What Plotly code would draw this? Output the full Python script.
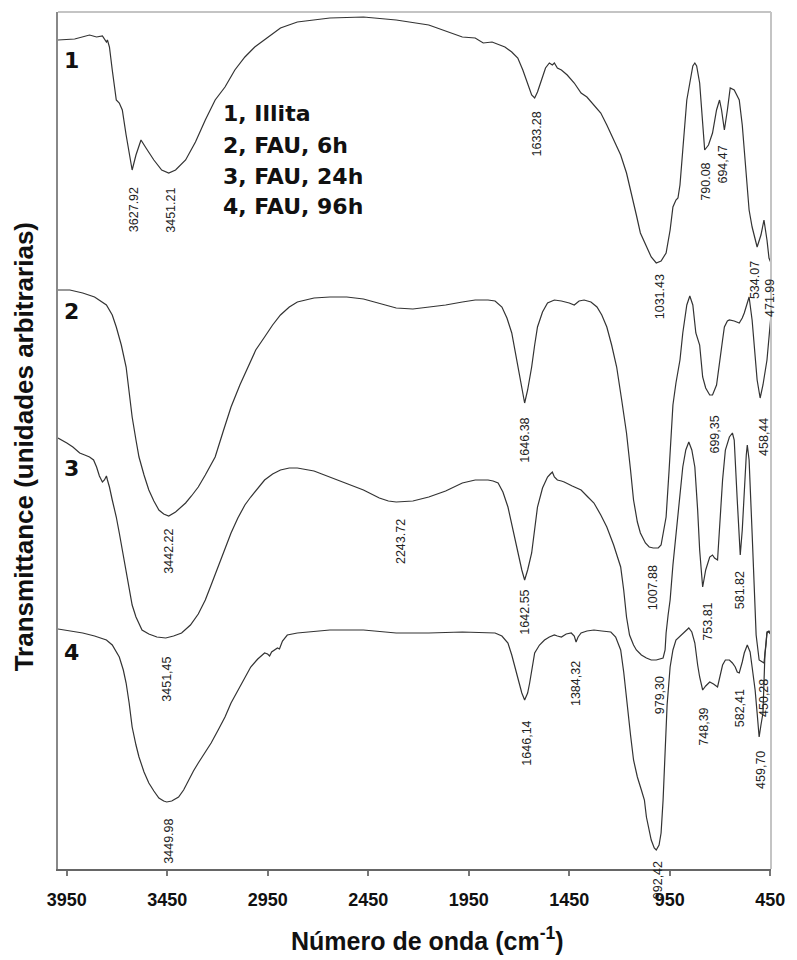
import plotly.graph_objects as go

# ---------------- data (wavenumber cm-1, transmittance in arbitrary units) ----------------
wn1 = [3994, 3911, 3837, 3802, 3773, 3753, 3748, 3738, 3724, 3704, 3689, 3674, 3655, 3640, 3625,
       3606, 3581, 3556, 3517, 3478, 3443, 3409, 3359, 3310, 3261, 3212, 3163, 3114, 3064, 3015,
       2966, 2926, 2887, 2803, 2641, 2474, 2311, 2149, 1982, 1918, 1878, 1834, 1804, 1770, 1736,
       1706, 1681, 1657, 1637, 1622, 1608, 1588, 1568, 1549, 1534, 1524, 1509, 1489, 1460, 1425,
       1391, 1362, 1327, 1293, 1263, 1229, 1194, 1165, 1145, 1130, 1116, 1096, 1081, 1066, 1042,
       1017, 993, 968, 948, 934, 919, 909, 899, 885, 865, 850, 835, 825, 816, 801, 791, 776, 757,
       737, 717, 702, 692, 678, 663, 649, 629, 604, 589, 574, 555, 540, 515, 496, 481, 466, 456, 446]
t1 = [829, 830, 834, 832, 833, 827, 829, 822, 799, 769, 766, 759, 734, 714, 699,
      714, 729, 721, 709, 699, 696, 699, 709, 727, 749, 769, 782, 799, 812, 822,
      829, 835, 841, 847, 851, 852, 849, 844, 832, 831, 826, 827, 825, 822, 817,
      811, 799, 786, 774, 771, 777, 789, 801, 806, 804, 806, 801, 799, 794, 786,
      776, 772, 764, 756, 744, 729, 714, 696, 679, 669, 654, 636, 629, 622, 612,
      606, 608, 616, 639, 662, 669, 671, 684, 719, 769, 786, 803, 806, 803, 786, 759, 719, 724,
      736, 759, 769, 759, 739, 759, 781, 779, 769, 744, 702, 659, 642, 622, 634, 649, 629, 611, 606]

wn2 = [3994, 3935, 3871, 3812, 3753, 3724, 3704, 3679, 3655, 3640, 3625, 3606, 3591, 3566, 3542,
       3517, 3492, 3468, 3443, 3409, 3359, 3330, 3296, 3261, 3212, 3173, 3133, 3089, 3049, 3010,
       2966, 2926, 2887, 2843, 2803, 2720, 2641, 2557, 2474, 2395, 2311, 2228, 2149, 2065, 1982,
       1918, 1854, 1819, 1785, 1760, 1736, 1721, 1706, 1686, 1672, 1657, 1637, 1622, 1608, 1583,
       1558, 1524, 1489, 1450, 1425, 1401, 1376, 1342, 1312, 1288, 1263, 1239, 1214, 1189, 1165,
       1145, 1130, 1111, 1096, 1071, 1052, 1032, 1007, 993, 978, 968, 953, 943, 934, 919, 899,
       885, 865, 850, 835, 820, 801, 786, 771, 751, 737, 717, 702, 687, 678, 663, 653, 629, 604,
       589, 579, 564, 555, 540, 530, 515, 500, 486, 466, 456, 446]
t2 = [579, 579, 576, 572, 564, 554, 542, 524, 502, 479, 452, 429, 412, 394, 379,
      368, 359, 355, 353, 357, 366, 373, 382, 394, 412, 437, 462, 484, 502, 519,
      532, 544, 554, 562, 567, 571, 572, 572, 570, 566, 561, 560, 562, 564, 567,
      569, 569, 568, 562, 551, 536, 519, 502, 479, 466, 479, 502, 524, 542, 557,
      566, 569, 568, 566, 564, 568, 569, 567, 562, 554, 542, 524, 502, 469, 436,
      399, 369, 347, 336, 326, 322, 321, 321, 324, 339, 352, 399, 436, 464, 486, 509,
      536, 564, 573, 564, 536, 524, 492, 481, 474, 474, 484, 509, 529, 542, 548, 549, 548, 546,
      551, 556, 566, 572, 549, 526, 489, 471, 484, 509, 534, 554]

wn3 = [3994, 3975, 3950, 3920, 3886, 3861, 3837, 3817, 3802, 3788, 3773, 3763, 3753, 3748, 3738,
       3724, 3704, 3689, 3674, 3655, 3640, 3625, 3606, 3591, 3576, 3542, 3502, 3458, 3419, 3379,
       3335, 3296, 3261, 3232, 3197, 3163, 3133, 3099, 3064, 3035, 3000, 2966, 2926, 2887, 2843,
       2803, 2720, 2641, 2557, 2474, 2395, 2350, 2311, 2228, 2149, 2065, 1982, 1918, 1854, 1829,
       1804, 1780, 1755, 1731, 1706, 1686, 1672, 1657, 1637, 1622, 1608, 1583, 1558, 1544, 1534,
       1524, 1509, 1489, 1475, 1435, 1391, 1362, 1327, 1293, 1263, 1229, 1194, 1179, 1165, 1150,
       1130, 1116, 1091, 1066, 1042, 1017, 993, 983, 973, 968, 958, 948, 934, 919, 899, 885, 870,
       855, 840, 825, 811, 801, 791, 786, 771, 751, 737, 727, 712, 702, 687, 673, 653, 638, 629,
       614, 604, 599, 589, 579, 569, 564, 555, 540, 530, 520, 505, 481, 471, 466, 456, 451, 446]
t3 = [431, 429, 426, 422, 416, 414, 412, 409, 402, 393, 387, 389, 393, 389, 382,
      369, 352, 336, 319, 299, 279, 264, 252, 245, 239, 235, 232, 231, 233, 236,
      244, 255, 269, 284, 302, 319, 336, 351, 364, 372, 381, 389, 395, 399, 401,
      401, 398, 392, 386, 379, 371, 368, 367, 368, 372, 378, 386, 389, 389, 388,
      386, 377, 362, 339, 316, 299, 289, 299, 316, 339, 362, 381, 392, 395, 397,
      392, 389, 388, 387, 383, 379, 373, 366, 354, 342, 324, 302, 279, 252, 234,
      224, 219, 214, 211, 209, 209, 210, 211, 219, 236, 254, 269, 304, 336, 374, 402, 419,
      427, 419, 402, 359, 319, 294, 282, 299, 312, 314, 311, 309, 339, 389, 419, 432, 436, 429,
      369, 329, 314, 339, 379, 414, 424, 409, 336, 279, 234, 209, 206, 224, 237, 238, 236, 237]

wn4 = [3994, 3935, 3871, 3812, 3753, 3724, 3689, 3669, 3655, 3640, 3625, 3606, 3591, 3566, 3542,
       3517, 3492, 3468, 3453, 3428, 3394, 3369, 3345, 3320, 3296, 3261, 3232, 3197, 3163, 3133,
       3099, 3064, 3035, 3000, 2966, 2951, 2941, 2931, 2917, 2902, 2892, 2877, 2853, 2803, 2641,
       2474, 2311, 2149, 1982, 1819, 1785, 1755, 1736, 1721, 1706, 1686, 1672, 1657, 1647, 1632,
       1622, 1598, 1573, 1549, 1524, 1509, 1489, 1465, 1440, 1425, 1416, 1406, 1391, 1362, 1327,
       1288, 1243, 1219, 1194, 1179, 1165, 1145, 1130, 1111, 1091, 1076, 1066, 1052, 1042, 1027,
       1017, 1003, 993, 983, 973, 963, 948, 934, 919, 894, 870, 855, 840, 825, 811, 801, 786,
       771, 751, 732, 712, 697, 687, 673, 653, 638, 624, 614, 604, 589, 579, 564, 550, 540, 525,
       515, 505, 496, 486, 476, 466, 456, 446]
t4 = [240, 238, 236, 233, 229, 224, 212, 199, 186, 166, 142, 124, 112, 97, 86,
      78, 71, 68, 67, 68, 72, 79, 89, 98, 106, 117, 126, 139, 152, 166,
      179, 191, 202, 210, 216, 215, 213, 217, 219, 221, 220, 228, 234, 236, 239,
      239, 236, 236, 237, 236, 233, 226, 214, 202, 189, 176, 169, 176, 186, 204,
      216, 224, 229, 232, 234, 233, 232, 235, 236, 233, 227, 232, 236, 238, 239,
      238, 237, 232, 219, 197, 169, 134, 109, 92, 79, 69, 52, 37, 29, 21,
      19, 24, 36, 69, 119, 164, 202, 219, 229, 234, 239, 241, 237, 226, 204, 192, 179,
      183, 187, 185, 182, 194, 204, 209, 209, 206, 202, 197, 196, 207, 216, 224, 217, 202, 179,
      156, 132, 144, 156, 216, 236, 237, 234]

# peak labels: text, wavenumber position, transmittance position
peak_text = ["3627.92", "3451.21", "1633.28", "790.08", "694,47", "1031.43", "534.07", "471.99",
             "3442.22", "1646.38", "699,35", "458,44", "1007.88",
             "3451,45", "2243.72", "1642.55", "753.81", "581.82", "979,30", "450,28",
             "3449.98", "1646,14", "1384,32", "748,39", "582,41", "459,70"]
peak_x = [3615, 3433, 1608, 771, 687, 997, 525, 451,
          3443, 1672, 727, 481, 1032,
          3453, 2287, 1672, 761, 599, 997, 481,
          3443, 1662, 1416, 781, 599, 496]
peak_y = [659, 659, 735, 687, 704, 572, 589, 571,
          318, 429, 434, 432, 281,
          190, 327, 257, 247, 279, 174, 171,
          28, 126, 185, 142, 161, 99]
# label that sits below the plot frame (paper y)
low_text, low_x, low_y = "992,42", 1007, -0.0128

curve_ids = ["1", "2", "3", "4"]
curve_id_y = [809, 558, 401, 217]
legend_lines = ["1, Illita", "2, FAU, 6h", "3, FAU, 24h", "4, FAU, 96h"]
legend_y = [756, 724, 693, 663]

tick_vals = [3950, 3450, 2950, 2450, 1950, 1450, 950, 450]

# ---------------- figure ----------------
fig = go.Figure()
line_style = dict(color="#333333", width=1.2)
for wn, t, name in [(wn1, t1, "Illita"), (wn2, t2, "FAU 6h"), (wn3, t3, "FAU 24h"), (wn4, t4, "FAU 96h")]:
    fig.add_trace(go.Scatter(x=wn, y=t, mode="lines", line=line_style, name=name,
                             showlegend=False, hoverinfo="skip"))

ann = []
label_font = dict(family="Liberation Sans, Arial", size=12.5, color="#222222")
for txt, x, y in zip(peak_text, peak_x, peak_y):
    ann.append(dict(x=x, y=y, xref="x", yref="y", text=txt, showarrow=False, textangle=-90,
                    font=label_font, xanchor="center", yanchor="middle"))
ann.append(dict(x=low_x, y=low_y, xref="x", yref="paper", text=low_text, showarrow=False,
                textangle=-90, font=label_font, xanchor="center", yanchor="middle"))

heavy = dict(family="DejaVu Sans", size=22, color="#111111", weight="bold")
for cid, y in zip(curve_ids, curve_id_y):
    ann.append(dict(x=3925, y=y, xref="x", yref="y", text=cid, showarrow=False,
                    font=heavy, xanchor="center", yanchor="middle"))
for line, y in zip(legend_lines, legend_y):
    ann.append(dict(x=3182, y=y, xref="x", yref="y", text=line, showarrow=False,
                    font=heavy, xanchor="left", yanchor="middle"))

title_font = dict(family="Liberation Sans, Arial", size=25, color="#111111", weight="bold")
ann.append(dict(x=0.5187, y=-0.0815, xref="paper", yref="paper",
                text="Número de onda (cm<sup>-1</sup>)", showarrow=False,
                font=title_font, xanchor="center", yanchor="middle"))
ann.append(dict(x=-0.0472, y=0.4924, xref="paper", yref="paper",
                text="Transmittance (unidades arbitrarias)", showarrow=False,
                textangle=-90, font=dict(family="Liberation Sans, Arial", size=26,
                                         color="#111111", weight="bold"),
                xanchor="center", yanchor="middle"))

fig.update_layout(
    width=797, height=960,
    margin=dict(l=58, r=18, t=12, b=91),
    paper_bgcolor="white", plot_bgcolor="white",
    annotations=ann,
    shapes=[
        dict(type="line", xref="paper", yref="paper", x0=0, x1=1, y0=1, y1=1,
             line=dict(color="#c4c4c4", width=2)),
        dict(type="line", xref="paper", yref="paper", x0=1, x1=1, y0=0, y1=1,
             line=dict(color="#c4c4c4", width=2)),
    ],
    xaxis=dict(range=[3994, 446], tickvals=tick_vals, ticktext=[str(v) for v in tick_vals],
               ticks="outside", ticklen=5, tickwidth=1.5, tickcolor="#777777",
               showline=True, linecolor="#666666", linewidth=2, showgrid=False, zeroline=False,
               tickfont=dict(family="Liberation Sans, Arial", size=18, color="#111111",
                             weight="bold"),
               ticklabelstandoff=8),
    yaxis=dict(range=[0, 857], showticklabels=False, ticks="", showline=True,
               linecolor="#888888", linewidth=2, showgrid=False, zeroline=False),
)

fig.write_html("out.html")
